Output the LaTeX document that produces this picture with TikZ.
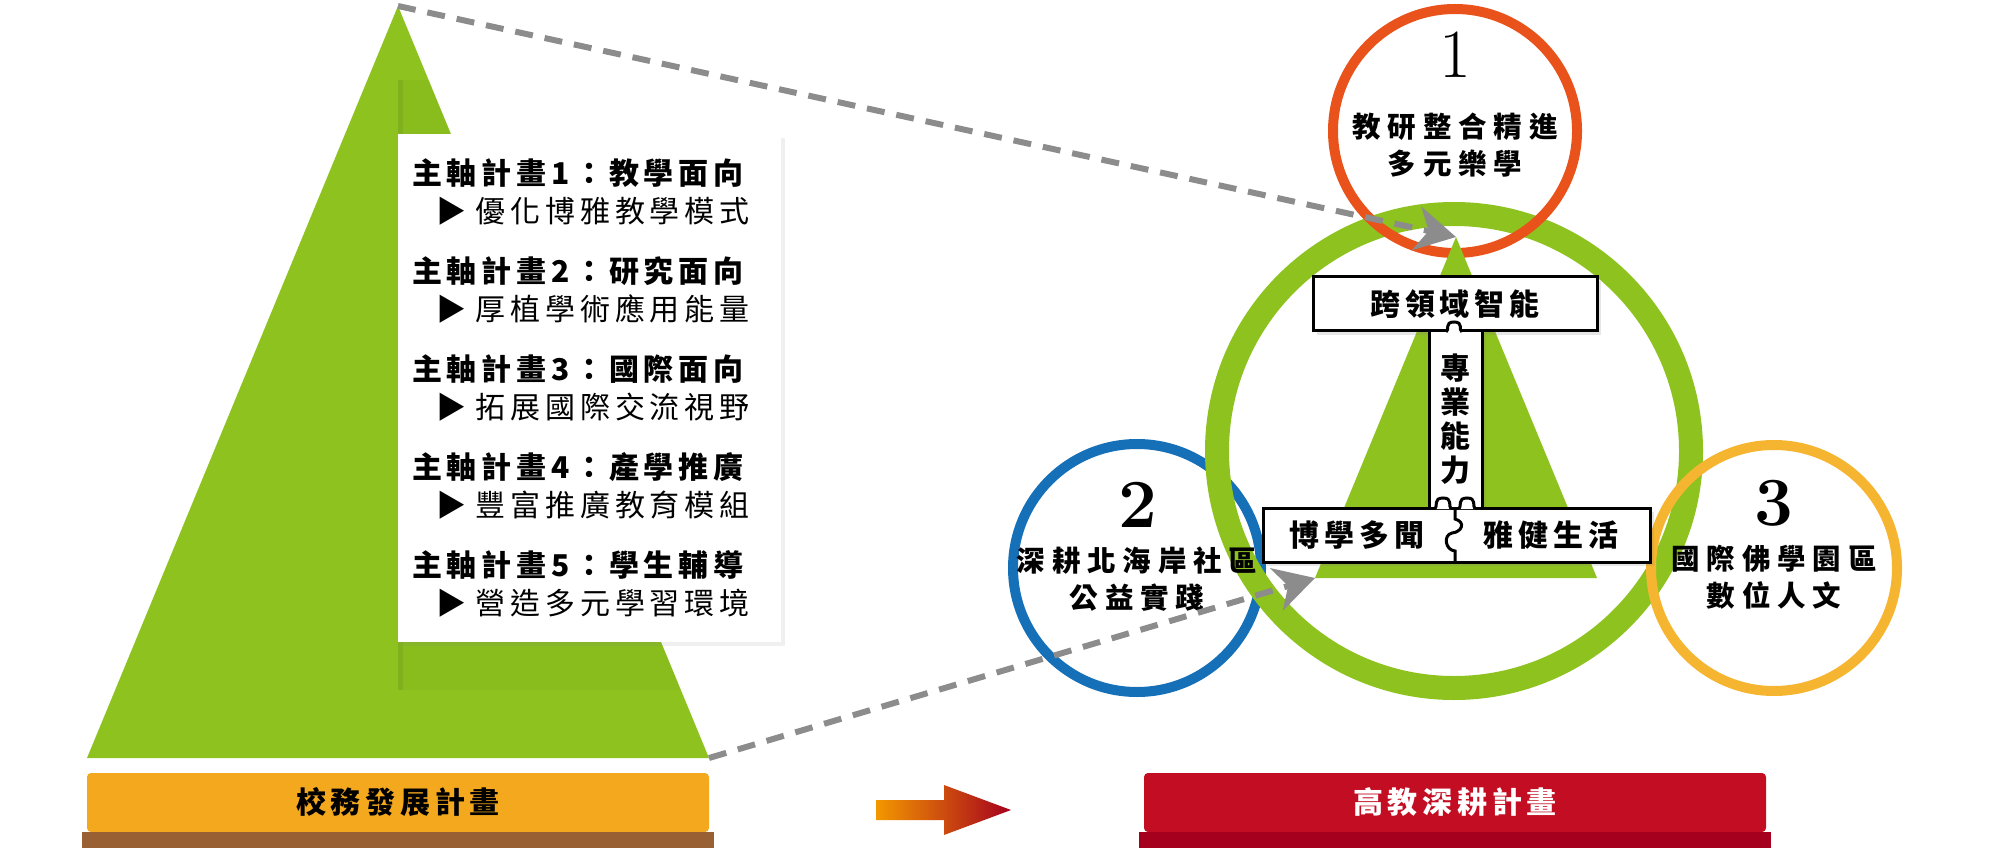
\documentclass[tikz,border=0pt]{standalone}
\usepackage{fontspec}
\newfontfamily\cjk[LetterSpace=16]{Noto Sans CJK TC}
\newfontfamily\cjkwide[LetterSpace=24]{Noto Sans CJK TC}
\usetikzlibrary{arrows.meta, positioning, shadows}
\definecolor{trigreen}{RGB}{141,194,31}
\definecolor{circred}{RGB}{233,83,27}
\definecolor{circblue}{RGB}{21,112,184}
\definecolor{circyellow}{RGB}{246,181,48}
\definecolor{dashgray}{RGB}{140,140,140}
\definecolor{barorange}{RGB}{244,168,30}
\definecolor{barbrown}{RGB}{153,97,51}
\definecolor{barred}{RGB}{195,13,35}
\definecolor{bardark}{RGB}{165,0,29}
\definecolor{arroworange}{RGB}{243,152,0}

\begin{document}
\begin{tikzpicture}[x=0.5pt, y=-0.5pt,
    panel/.style={fill=white, align=left, text width=177.5pt, inner xsep=7pt, minimum height=254pt, font=\cjk\fontsize{15pt}{19pt}\selectfont, drop shadow={shadow xshift=2pt, shadow yshift=-2pt, opacity=0.12}},
    ring/.style={circle, line width=5pt, inner sep=0pt},
    digit/.style={font=\fontsize{34.5pt}{34.5pt}\selectfont, inner sep=0pt},
    ctext/.style={align=center, inner sep=0pt, font=\cjkwide\bfseries\fontsize{14.25pt}{18.5pt}\selectfont},
    pbox/.style={draw, line width=1.5pt, fill=white, inner sep=0pt, drop shadow={shadow xshift=2pt, shadow yshift=-2pt, opacity=0.2}},
    ptext/.style={inner sep=0pt, align=center, font=\cjk\bfseries\fontsize{15pt}{17pt}\selectfont},
    bar/.style={inner sep=0pt, minimum width=311pt, minimum height=29.5pt, rounded corners=2pt, font=\cjk\bfseries\fontsize{15pt}{15pt}\selectfont},
    foot/.style={inner sep=0pt, minimum width=316pt, minimum height=8pt},
    dashline/.style={dashgray, line width=3pt, dash pattern=on 9pt off 6pt, -{Stealth[length=20pt, width=22pt, inset=6pt]}}
]
    \useasboundingbox (0,0) rectangle (2000,855);

    % left pyramid
    \fill[trigreen] (398,6) -- (87,758) -- (709,758) -- cycle;
    \begin{scope}
        \clip (398,6) -- (87,758) -- (709,758) -- cycle;
        \fill[black, opacity=0.025] (398,80) rectangle (800,690);
        \fill[black, opacity=0.06] (398,80) rectangle (403,690);
    \end{scope}
    \coordinate (apexL) at (398,6);
    \coordinate (baseR) at (709,758);

    % plan list
    \node[panel] (plans) at (589.5,388) {
        \textbf{主軸計畫1：教學面向}\\
        \hspace*{12pt}▶ 優化博雅教學模式\\[11pt]
        \textbf{主軸計畫2：研究面向}\\
        \hspace*{12pt}▶ 厚植學術應用能量\\[11pt]
        \textbf{主軸計畫3：國際面向}\\
        \hspace*{12pt}▶ 拓展國際交流視野\\[11pt]
        \textbf{主軸計畫4：產學推廣}\\
        \hspace*{12pt}▶ 豐富推廣教育模組\\[11pt]
        \textbf{主軸計畫5：學生輔導}\\
        \hspace*{12pt}▶ 營造多元學習環境
    };

    % rings
    \node[ring, draw=circblue, minimum size=124pt] (c2) at (1137,568) {};
    \node[ring, draw=trigreen, line width=12pt, minimum size=237pt] (big) at (1454,451) {};
    \node[ring, draw=circyellow, minimum size=123pt] (c3) at (1774,568) {};
    \node[ring, draw=circred, minimum size=122pt] (c1) at (1455,131) {};

    % inner pyramid
    \fill[trigreen] (1456,237) -- (1315,578) -- (1597,578) -- cycle;
    \coordinate (apexR) at (1456,237);
    \coordinate (baseL) at (1315,578);

    % ring texts
    \node[digit] (n1) at (1455,55) {1};
    \node[ctext] (t1) at (1455,145.5) {教研整合精進\\多元樂學};
    \node[digit, font=\bfseries\fontsize{34.5pt}{34.5pt}\selectfont] (n2) at (1138,505) {2};
    \node[ctext] (t2) at (1137,579) {深耕北海岸社區\\公益實踐};
    \node[digit, font=\bfseries\fontsize{34.5pt}{34.5pt}\selectfont] (n3) at (1774,503) {3};
    \node[ctext] (t3) at (1774,577.5) {國際佛學園區\\數位人文};

    % dashed links
    \draw[dashline] (apexL) -- (apexR);
    \draw[dashline] (baseR) -- (baseL);

    % puzzle boxes
    \node[pbox, minimum width=142pt, minimum height=27pt] (cross) at (1455,304) {};
    \node[ptext] at (cross) {跨領域智能};
    \node[pbox, minimum width=26.5pt, minimum height=88.5pt] (pro) at (1455.5,419.5) {};
    \node[ptext] at (pro) {專\\業\\能\\力};
    \node[pbox, minimum width=193.5pt, minimum height=27pt] (base) at (1456.5,535) {};
    \node[ptext] (wide) at (1357,535) {博學多聞};
    \node[ptext] (life) at (1551,535) {雅健生活};
    \filldraw[fill=white, line width=1.5pt] (1446,332) .. controls (1450,330) and (1444,322) .. (1454,322) .. controls (1464,322) and (1458,330) .. (1462,332);
    \foreach \kx in {1443,1467}
        \filldraw[fill=white, line width=1.5pt] (\kx-8,509) .. controls (\kx-5,506) and (\kx-10,498) .. (\kx,498) .. controls (\kx+10,498) and (\kx+5,506) .. (\kx+8,509);
    \draw[line width=1.5pt] (1455,508) -- (1455,519) .. controls (1466,522) and (1462,532) .. (1452,533) .. controls (1443,535) and (1445,550) .. (1455,551) -- (1455,562);

    % bottom bars
    \node[bar, fill=barorange] (school) at (398,802.5) {校務發展計畫};
    \node[foot, fill=barbrown] (schoolfoot) at (398,840) {};
    \node[bar, fill=barred, text=white] (deep) at (1455,802.5) {高教深耕計畫};
    \node[foot, fill=bardark] (deepfoot) at (1455,840) {};
    \shade[left color=arroworange, right color=bardark] (876,800) -- (944,800) -- (944,785) -- (1011,810) -- (944,835) -- (944,820) -- (876,820) -- cycle;
\end{tikzpicture}
\end{document}
